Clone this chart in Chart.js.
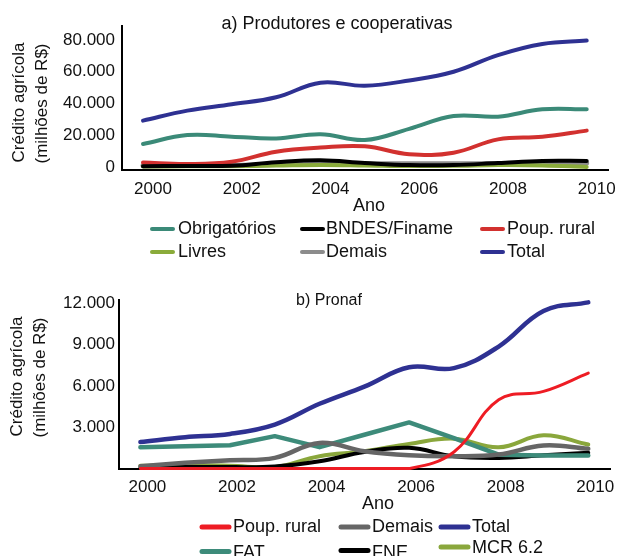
<!DOCTYPE html>
<html><head><meta charset="utf-8">
<script src="https://cdn.jsdelivr.net/npm/chart.js@4/dist/chart.umd.min.js"></script>
<style>
html,body{margin:0;padding:0;background:#fff;overflow:hidden;}
canvas{display:block;}
</style></head><body>
<canvas id="ca" width="617" height="280"></canvas>
<canvas id="cb" width="617" height="276"></canvas>
<script>
// ---------- data ----------
const years = [2000,2001,2002,2003,2004,2005,2006,2007,2008,2009,2010];
const xTicks = [2000,2002,2004,2006,2008,2010];
const yTicksA = [0,20000,40000,60000,80000];
const yTicksB = [3000,6000,9000,12000];

// a) Produtores e cooperativas
const aObrigatorios = [14500,20100,19100,18000,20600,17000,24000,32100,31700,36300,36300];
const aBndes        = [500,600,800,3000,4200,2500,1200,1200,2500,3800,3800];
const aPoupRural    = [2800,1900,3300,9600,12200,13000,8000,9000,17400,19100,22900];
const aLivres       = [300,400,500,900,1300,1000,600,700,1200,1000,0];
const aDemais       = [800,900,1000,1500,2000,2000,2000,2000,2200,2500,2300];
const aTotal        = [29200,35500,39500,43900,53100,51200,54500,60000,70500,77500,79600];

// b) Pronaf
const bPoupRural = [0,0,0,0,0,0,0,1200,5000,5600,6930];
const bDemais    = [170,410,600,770,1860,1250,960,890,1010,1670,1430];
const bTotal     = [1930,2270,2510,3190,4700,5950,7350,7290,8860,11440,12070];
const bFat       = [1540,1620,1690,2350,1550,2450,3350,2200,1000,950,950];
const bFne       = [50,100,100,150,530,1200,1500,890,770,960,1140];
const bMcr       = [200,250,200,100,890,1250,1790,2170,1540,2410,1740];

const pts = v => years.map((y,i)=>({x:y,y:v[i]}));
const fmt = n => String(n).replace(/\B(?=(\d{3})+(?!\d))/g,'.');
const FONT = "'Liberation Sans', Arial, sans-serif";

const textPlugin = {
  id:'customText',
  afterDraw(chart, args, opts){
    const ctx = chart.ctx;
    (opts.items||[]).forEach(it=>{
      ctx.save();
      ctx.font = it.size+'px '+FONT;
      ctx.fillStyle = '#111';
      ctx.textAlign = 'center';
      ctx.textBaseline = 'middle';
      ctx.translate(it.x,it.y);
      if(it.rot) ctx.rotate(-Math.PI/2);
      ctx.fillText(it.text,0,0);
      ctx.restore();
    });
  }
};
const legendPlugin = {
  id:'gridLegend',
  afterDraw(chart, args, o){
    const ctx = chart.ctx;
    chart.data.datasets.forEach((ds,i)=>{
      const c = i % 3, r = Math.floor(i/3);
      const dy = (o.dy && o.dy[i]) || 0;
      const y = o.rowY[r] + dy;
      ctx.save();
      ctx.strokeStyle = ds.borderColor;
      ctx.lineWidth = o.lw;
      ctx.lineCap = 'round';
      ctx.beginPath();
      ctx.moveTo(o.swX[c], y + ((o.sdy&&o.sdy[i])||0));
      ctx.lineTo(o.swX[c]+o.swL, y + ((o.sdy&&o.sdy[i])||0));
      ctx.stroke();
      ctx.font = o.size+'px '+FONT;
      ctx.fillStyle = '#111';
      ctx.textAlign = 'left';
      ctx.textBaseline = 'middle';
      ctx.fillText(ds.label, o.txX[c], y);
      ctx.restore();
    });
  }
};

function line(label, data, color, width, tension){
  return {label, data:pts(data), borderColor:color, backgroundColor:color,
    borderWidth:width, pointRadius:0, tension:tension, fill:false,
    borderCapStyle:'round', borderJoinStyle:'round', clip:false};
}

function scales(xmin,xmax,ymin,ymax,yTicks,yW,xH,yPad,xPad,lblOff,showZero){
  return {
    x:{type:'linear',min:xmin,max:xmax,
      afterBuildTicks:s=>{s.ticks = xTicks.map(v=>({value:v}));},
      afterFit:s=>{s.height = xH;},
      grid:{display:false,drawTicks:false},
      border:{display:true,color:'#000',width:2},
      ticks:{font:{family:FONT,size:17},color:'#111',padding:xPad,labelOffset:lblOff,
        maxRotation:0,autoSkip:false,callback:v=>String(v)}},
    y:{type:'linear',min:ymin,max:ymax,
      afterBuildTicks:s=>{s.ticks = yTicks.map(v=>({value:v}));},
      afterFit:s=>{s.width = yW;},
      grid:{display:false,drawTicks:false},
      border:{display:true,color:'#000',width:2},
      ticks:{font:{family:FONT,size:17},color:'#111',padding:yPad,autoSkip:false,
        callback:v=>fmt(v)}}
  };
}

new Chart(document.getElementById('ca'),{
  type:'line',
  data:{datasets:[
    line('Obrigatórios', aObrigatorios, '#3b8a78', 4, 0.4),
    line('BNDES/Finame', aBndes, '#000000', 4, 0.4),
    line('Poup. rural', aPoupRural, '#d2312f', 4, 0.4),
    line('Livres', aLivres, '#8aab3a', 4, 0.4),
    line('Demais', aDemais, '#8c8c8c', 5, 0.4),
    line('Total', aTotal, '#2e3192', 4, 0.4)
  ]},
  options:{responsive:false,animation:false,devicePixelRatio:1,
    layout:{padding:{top:26,left:0,right:9,bottom:0}},
    scales:scales(1999.527,2010.48,-1900,88800,yTicksA,122,110,7,9,10),
    plugins:{legend:{display:false},tooltip:{enabled:false},
      customText:{items:[
        {text:'a) Produtores e cooperativas',x:337,y:24,size:18},
        {text:'Crédito agrícola',x:19.5,y:102.5,size:17,rot:true},
        {text:'(milhões de R$)',x:42.5,y:103.5,size:17,rot:true},
        {text:'Ano',x:369,y:206,size:18}
      ]},
      gridLegend:{swX:[152,302,482],swL:21,txX:[178,326,507],rowY:[229,252],lw:4,size:18}
    }},
  plugins:[textPlugin,legendPlugin]
});

new Chart(document.getElementById('cb'),{
  type:'line',
  data:{datasets:[
    line('Poup. rural', bPoupRural, '#ee1c24', 3, 0.4),
    line('Demais', bDemais, '#666666', 4.5, 0.4),
    line('Total', bTotal, '#2e3192', 4.5, 0.4),
    line('FAT', bFat, '#3d8b7a', 4.5, 0),
    line('FNE', bFne, '#000000', 4, 0.4),
    line('MCR 6.2', bMcr, '#8aa73c', 4, 0.4)
  ]},
  options:{responsive:false,animation:false,devicePixelRatio:1,
    layout:{padding:{top:20,left:0,right:7,bottom:0}},
    scales:scales(1999.522,2010.485,0,12240,yTicksB,119,87.5,4,9,7),
    plugins:{legend:{display:false},tooltip:{enabled:false},
      customText:{items:[
        {text:'b) Pronaf',x:329,y:21,size:16},
        {text:'Crédito agrícola',x:17,y:96.5,size:17,rot:true},
        {text:'(milhões de R$)',x:40.5,y:97.5,size:17,rot:true},
        {text:'Ano',x:378,y:224,size:18}
      ]},
      gridLegend:{swX:[202,341,441],swL:27,txX:[233,372,472],rowY:[247,273],lw:5,size:18,
        dy:[0,0,0,0,0,-4.5],sdy:[0,0,0,-1.5,-2.5,-1.5]}
    }},
  plugins:[textPlugin,legendPlugin]
});
</script>
</body></html>
